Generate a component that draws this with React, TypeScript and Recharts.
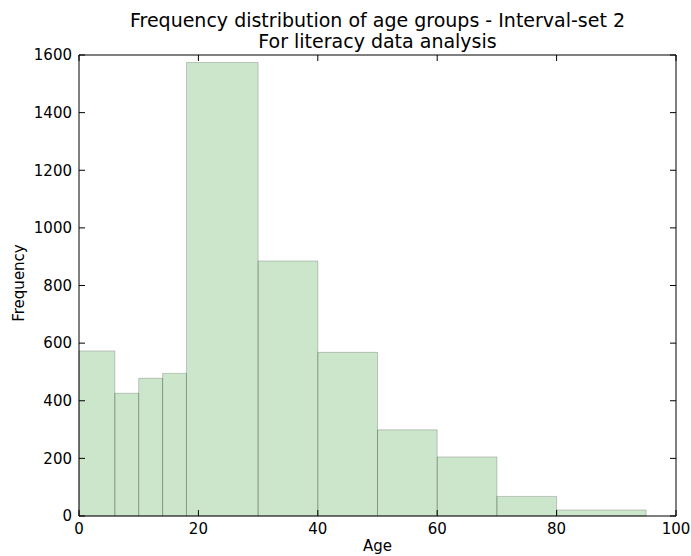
import React from 'react';
import { ComposedChart, XAxis, YAxis, ReferenceArea, Line } from 'recharts';

// bin edges (age) and counts per bin
const binStarts = [0, 6, 10, 14, 18, 30, 40, 50, 60, 70, 80];
const binEnds = [6, 10, 14, 18, 30, 40, 50, 60, 70, 80, 95];
const counts = [573, 426, 478, 495, 1574, 885, 568, 299, 205, 68, 21];

const xTicks = [0, 20, 40, 60, 80, 100];
const yTicks = [0, 200, 400, 600, 800, 1000, 1200, 1400, 1600];

const W = 691;
const H = 556;
const FONT = '"DejaVu Sans", sans-serif';
const TICK_LEN = 6;
const GAP = 7;

const data = binStarts.map((s, i) => ({ start: s, end: binEnds[i], count: counts[i] }));

// matplotlib-style ticks pointing into the plot
const BottomTick = (props: any) => {
  const { x, y, payload } = props;
  const axisY = y - GAP;
  return (
    <g>
      <line x1={x} x2={x} y1={axisY} y2={axisY - TICK_LEN} stroke="#000" />
      <text x={x} y={y} dy="0.71em" textAnchor="middle" fill="#000" fontSize={15} fontFamily={FONT}>
        {payload.value}
      </text>
    </g>
  );
};

const LeftTick = (props: any) => {
  const { x, y, payload } = props;
  const axisX = x + GAP;
  return (
    <g>
      <line x1={axisX} x2={axisX + TICK_LEN} y1={y} y2={y} stroke="#000" />
      <text x={x} y={y} dy="0.355em" textAnchor="end" fill="#000" fontSize={15} fontFamily={FONT}>
        {payload.value}
      </text>
    </g>
  );
};

const TopTick = (props: any) => {
  const { x, y } = props;
  return <line x1={x} x2={x} y1={y} y2={y + TICK_LEN} stroke="#000" />;
};

const RightTick = (props: any) => {
  const { x, y } = props;
  return <line x1={x} x2={x - TICK_LEN} y1={y} y2={y} stroke="#000" />;
};

const App: React.FC = () => {
  return (
    <div style={{ position: 'absolute', left: 0, top: 0, width: W, height: H, background: '#fff', fontFamily: FONT }}>
      <ComposedChart width={W} height={H} data={data} margin={{ top: 54, right: 14, left: 20, bottom: 0 }}>
        <XAxis
          xAxisId={0}
          type="number"
          dataKey="start"
          domain={[0, 100]}
          ticks={xTicks}
          height={40}
          tickSize={0}
          tickMargin={GAP}
          tick={<BottomTick />}
          tickLine={false}
          axisLine={{ stroke: '#000', strokeWidth: 1 }}
        />
        <XAxis
          xAxisId="top"
          orientation="top"
          type="number"
          dataKey="start"
          domain={[0, 100]}
          ticks={xTicks}
          height={1}
          tickSize={0}
          tickMargin={0}
          tick={<TopTick />}
          tickLine={false}
          axisLine={{ stroke: '#000', strokeWidth: 1 }}
        />
        <YAxis
          yAxisId={0}
          type="number"
          domain={[0, 1600]}
          ticks={yTicks}
          width={59}
          tickSize={0}
          tickMargin={GAP}
          tick={<LeftTick />}
          tickLine={false}
          axisLine={{ stroke: '#000', strokeWidth: 1 }}
        />
        <YAxis
          yAxisId="right"
          orientation="right"
          type="number"
          domain={[0, 1600]}
          ticks={yTicks}
          width={1}
          tickSize={0}
          tickMargin={0}
          tick={<RightTick />}
          tickLine={false}
          axisLine={{ stroke: '#000', strokeWidth: 1 }}
        />
        {/* invisible series so every axis pair gets a scale */}
        <Line xAxisId={0} yAxisId={0} dataKey="count" stroke="none" dot={false} activeDot={false} isAnimationActive={false} />
        <Line xAxisId="top" yAxisId="right" dataKey="count" stroke="none" dot={false} activeDot={false} isAnimationActive={false} />
        {data.map((d, i) => (
          <ReferenceArea
            key={`bin-${i}`}
            xAxisId={0}
            yAxisId={0}
            x1={d.start}
            x2={d.end}
            y1={0}
            y2={d.count}
            fill="#008000"
            fillOpacity={0.2}
            stroke="#000"
            strokeOpacity={0.2}
            strokeWidth={1}
            ifOverflow="visible"
          />
        ))}
      </ComposedChart>
      <div style={{ position: 'absolute', left: 79, width: 597, top: 10, textAlign: 'center', fontSize: 19, lineHeight: '21px', color: '#000' }}>
        Frequency distribution of age groups - Interval-set 2
        <br />
        For literacy data analysis
      </div>
      <div style={{ position: 'absolute', left: 79, width: 597, top: 537, textAlign: 'center', fontSize: 15, color: '#000' }}>Age</div>
      <div
        style={{
          position: 'absolute',
          left: 19,
          top: 283,
          transform: 'translate(-50%, -50%) rotate(-90deg)',
          fontSize: 15,
          color: '#000',
          whiteSpace: 'nowrap',
        }}
      >
        Frequency
      </div>
    </div>
  );
};

export default App;
